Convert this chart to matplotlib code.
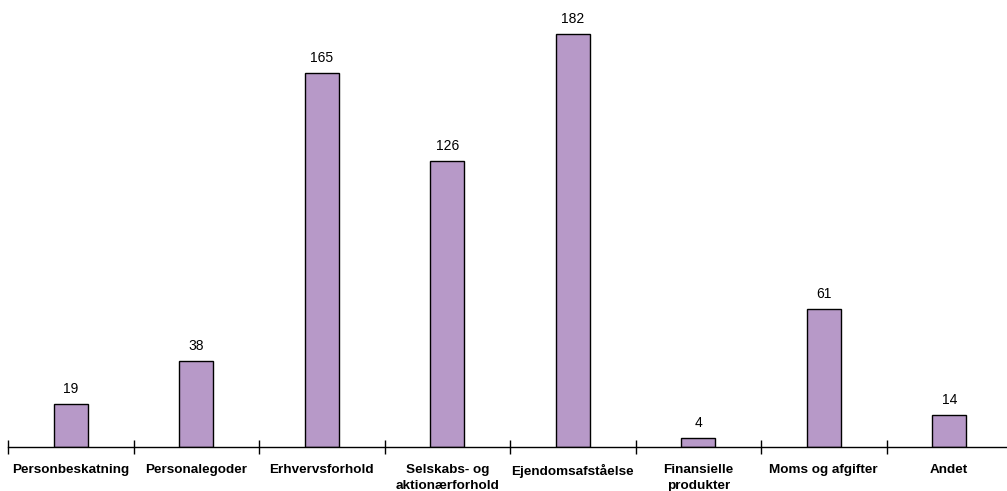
import numpy as np
import matplotlib.pyplot as plt

categories = ["Personbeskatning", "Personalegoder", "Erhvervsforhold",
              "Selskabs- og\naktionærforhold", "Ejendomsafståelse",
              "Finansielle\nprodukter", "Moms og afgifter", "Andet"]
values = [19, 38, 165, 126, 182, 4, 61, 14]

plt.rcParams["font.family"] = ["Liberation Sans", "DejaVu Sans"]

fig = plt.figure(figsize=(10.07, 4.91), dpi=100)
# axis line sits at y=447 px, left edge at x=8 px; right side runs off the picture
ax = fig.add_axes([8 / 1007, 1 - 447 / 491, 1004 / 1007, 447 / 491])

x = np.arange(len(categories))
ax.bar(x, values, width=0.27, color="#b799c8", edgecolor="black", linewidth=1)
for xi, v in zip(x, values):
    ax.text(xi, v + 3.5, str(v), ha="center", va="bottom", fontsize=10)

ax.set_xlim(-0.5, len(categories) - 0.5)
ax.set_ylim(0, 197)
ax.set_yticks([])
ax.set_xticks(np.arange(len(categories) + 1) - 0.5)
ax.set_xticklabels([])
ax.set_xticks(x, minor=True)
ax.set_xticklabels(categories, minor=True, fontweight="bold", fontsize=9.7,
                   linespacing=1.45)
ax.tick_params(axis="x", which="major", direction="inout", length=10, width=1)
ax.tick_params(axis="x", which="minor", length=0, pad=12)

for s in ["top", "right", "left"]:
    ax.spines[s].set_visible(False)
ax.spines["bottom"].set_linewidth(1)

fig.savefig("out.png", dpi=100)
